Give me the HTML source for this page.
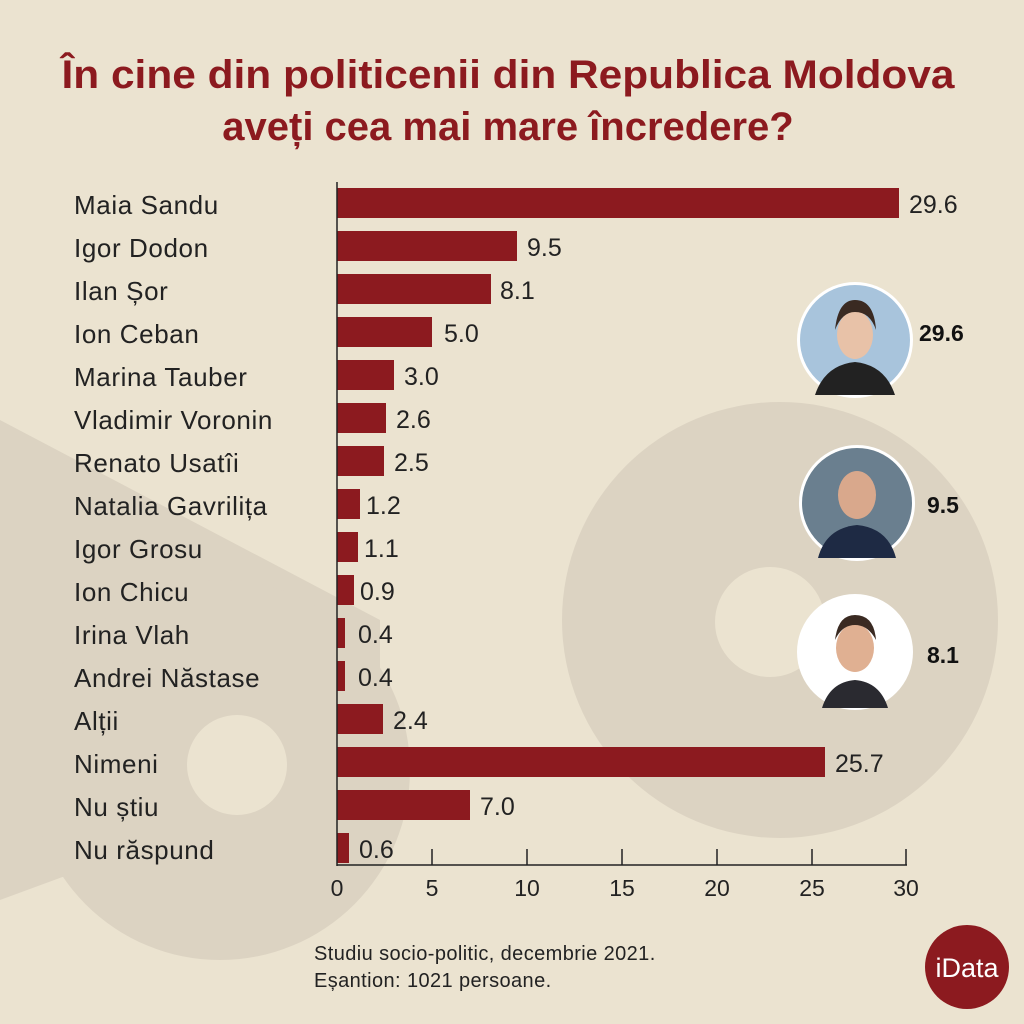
<!DOCTYPE html>
<html><head><meta charset="utf-8"><style>
body{margin:0;background:#ebe3d0;}
svg{display:block;font-family:"Liberation Sans",sans-serif;}
</style></head><body>
<svg width="1024" height="1024" viewBox="0 0 1024 1024">
<rect width="1024" height="1024" fill="#ebe3d0"/>
<g fill="#dcd3c2">
<circle cx="780" cy="620" r="218"/>
<path d="M0 420 L380 620 L380 760 L0 900Z"/>
<circle cx="220" cy="770" r="190"/>
</g>
<circle cx="770" cy="622" r="55" fill="#ebe3d0"/>
<circle cx="237" cy="765" r="50" fill="#ebe3d0"/>
<text x="508" y="88" text-anchor="middle" font-size="40" font-weight="bold" fill="#8c1a1f" textLength="893" lengthAdjust="spacingAndGlyphs">În cine din politicenii din Republica Moldova</text>
<text x="508" y="140" text-anchor="middle" font-size="40" font-weight="bold" fill="#8c1a1f">aveți cea mai mare încredere?</text>
<g font-size="26" fill="#222" letter-spacing="0.6">
<text x="74" y="214">Maia Sandu</text>
<text x="74" y="257">Igor Dodon</text>
<text x="74" y="300">Ilan Șor</text>
<text x="74" y="343">Ion Ceban</text>
<text x="74" y="386">Marina Tauber</text>
<text x="74" y="429">Vladimir Voronin</text>
<text x="74" y="472">Renato Usatîi</text>
<text x="74" y="515">Natalia Gavrilița</text>
<text x="74" y="558">Igor Grosu</text>
<text x="74" y="601">Ion Chicu</text>
<text x="74" y="644">Irina Vlah</text>
<text x="74" y="687">Andrei Năstase</text>
<text x="74" y="730">Alții</text>
<text x="74" y="773">Nimeni</text>
<text x="74" y="816">Nu știu</text>
<text x="74" y="859">Nu răspund</text>
</g>
<g fill="#8c1a1f">
<rect x="337" y="188" width="562" height="30"/>
<rect x="337" y="231" width="180" height="30"/>
<rect x="337" y="274" width="154" height="30"/>
<rect x="337" y="317" width="95" height="30"/>
<rect x="337" y="360" width="57" height="30"/>
<rect x="337" y="403" width="49" height="30"/>
<rect x="337" y="446" width="47" height="30"/>
<rect x="337" y="489" width="23" height="30"/>
<rect x="337" y="532" width="21" height="30"/>
<rect x="337" y="575" width="17" height="30"/>
<rect x="337" y="618" width="8" height="30"/>
<rect x="337" y="661" width="8" height="30"/>
<rect x="337" y="704" width="46" height="30"/>
<rect x="337" y="747" width="488" height="30"/>
<rect x="337" y="790" width="133" height="30"/>
<rect x="337" y="833" width="12" height="30"/>
</g>
<g font-size="25" fill="#222">
<text x="909" y="213">29.6</text>
<text x="527" y="256">9.5</text>
<text x="500" y="299">8.1</text>
<text x="444" y="342">5.0</text>
<text x="404" y="385">3.0</text>
<text x="396" y="428">2.6</text>
<text x="394" y="471">2.5</text>
<text x="366" y="514">1.2</text>
<text x="364" y="557">1.1</text>
<text x="360" y="600">0.9</text>
<text x="358" y="643">0.4</text>
<text x="358" y="686">0.4</text>
<text x="393" y="729">2.4</text>
<text x="835" y="772">25.7</text>
<text x="480" y="815">7.0</text>
<text x="359" y="858">0.6</text>
</g>
<g stroke="#222" stroke-width="1.5">
<line x1="337" y1="182" x2="337" y2="866"/>
<line x1="337" y1="865" x2="907" y2="865"/>
<line x1="432" y1="849" x2="432" y2="865"/>
<line x1="527" y1="849" x2="527" y2="865"/>
<line x1="622" y1="849" x2="622" y2="865"/>
<line x1="717" y1="849" x2="717" y2="865"/>
<line x1="812" y1="849" x2="812" y2="865"/>
<line x1="906" y1="849" x2="906" y2="865"/>
</g>
<g font-size="23" fill="#222" text-anchor="middle">
<text x="337" y="896">0</text><text x="432" y="896">5</text><text x="527" y="896">10</text>
<text x="622" y="896">15</text><text x="717" y="896">20</text><text x="812" y="896">25</text><text x="906" y="896">30</text>
</g>
<g font-size="20" fill="#222" letter-spacing="0.4">
<text x="314" y="960">Studiu socio-politic, decembrie 2021.</text>
<text x="314" y="987">Eșantion: 1021 persoane.</text>
</g>
<g>
<circle cx="855" cy="340" r="58" fill="#fff"/>
<circle cx="855" cy="340" r="55" fill="#a8c4dc"/>
<path d="M815 395 Q825 365 855 362 Q885 365 895 395Z" fill="#222"/>
<ellipse cx="855" cy="335" rx="18" ry="24" fill="#e8c2a8"/>
<path d="M835 330 Q838 300 855 300 Q874 300 876 330 Q870 312 855 312 Q842 312 835 330Z" fill="#3a2a22"/>
<circle cx="857" cy="503" r="58" fill="#fff"/>
<circle cx="857" cy="503" r="55" fill="#6a7f8f"/>
<path d="M818 558 Q826 528 857 525 Q888 528 896 558Z" fill="#1e2a44"/>
<ellipse cx="857" cy="495" rx="19" ry="24" fill="#d9a88c"/>
<circle cx="855" cy="652" r="58" fill="#fff"/>
<path d="M822 708 Q830 682 855 680 Q880 682 888 708Z" fill="#2a2a30"/>
<ellipse cx="855" cy="648" rx="19" ry="24" fill="#e0b092"/>
<path d="M835 640 Q838 615 855 615 Q874 615 876 640 Q868 625 855 625 Q842 625 835 640Z" fill="#3a2a22"/>
</g>
<g font-size="23" font-weight="bold" fill="#111">
<text x="919" y="341">29.6</text>
<text x="927" y="513">9.5</text>
<text x="927" y="663">8.1</text>
</g>
<circle cx="967" cy="967" r="42" fill="#8c1a1f"/>
<text x="967" y="977" text-anchor="middle" font-size="27" fill="#fff">iData</text>
</svg>
</body></html>
